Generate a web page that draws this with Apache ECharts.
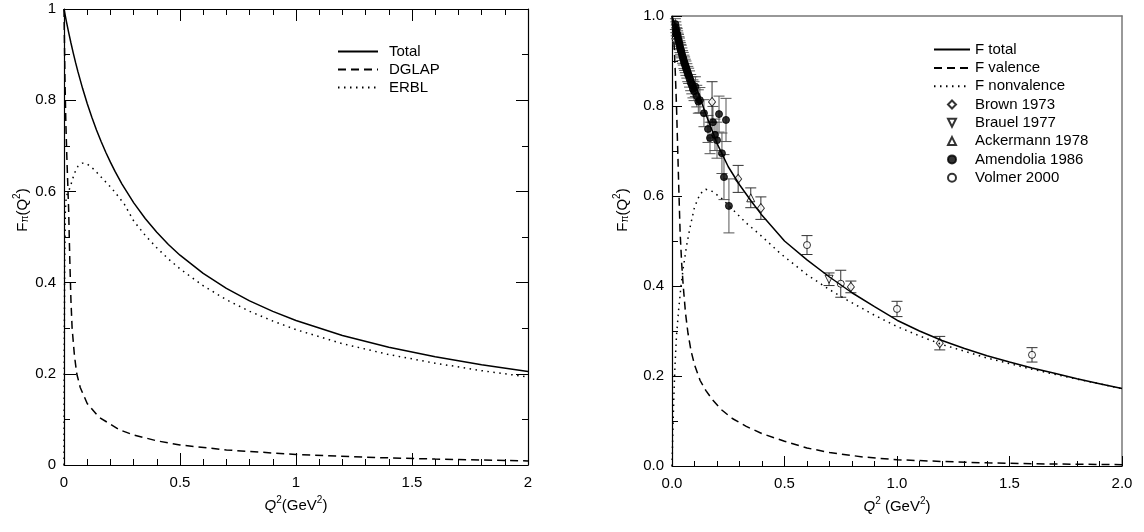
<!DOCTYPE html>
<html>
<head>
<meta charset="utf-8">
<script src="https://cdn.jsdelivr.net/npm/echarts@6/dist/echarts.min.js"></script>
<style>html,body{margin:0;padding:0;background:#fff}#c{width:1144px;height:532px}</style>
</head>
<body>
<div id="c"></div>
<script>
// ---------- Left panel curves ----------
const leftTotalQ2 = [0, 0.01, 0.02, 0.03, 0.04, 0.05, 0.06, 0.08, 0.1, 0.12, 0.14, 0.16, 0.18, 0.2, 0.22, 0.25, 0.3, 0.35, 0.4, 0.45, 0.5, 0.6, 0.7, 0.8, 0.9, 1.0, 1.2, 1.4, 1.6, 1.8, 2.0];
const leftTotalF  = [1.0, 0.9736, 0.9488, 0.9254, 0.9033, 0.8824, 0.8626, 0.826, 0.7927, 0.7625, 0.7348, 0.7093, 0.6858, 0.6641, 0.6439, 0.6161, 0.5755, 0.5406, 0.5103, 0.4837, 0.4601, 0.4201, 0.3874, 0.36, 0.3368, 0.3168, 0.284, 0.2582, 0.2373, 0.2199, 0.2052];
const leftDglapQ2 = [0, 0.004, 0.008, 0.012, 0.016, 0.02, 0.025, 0.03, 0.035, 0.045, 0.055, 0.07, 0.1, 0.15, 0.24, 0.3, 0.4, 0.5, 0.7, 1.0, 1.3, 1.6, 2.0];
const leftDglapF  = [1.0, 0.85, 0.75, 0.68, 0.62, 0.56, 0.45, 0.36, 0.3, 0.24, 0.2, 0.17, 0.135, 0.105, 0.077, 0.066, 0.053, 0.044, 0.033, 0.023, 0.017, 0.013, 0.009];
const leftErblQ2  = [0, 0.001, 0.003, 0.006, 0.01, 0.02, 0.03, 0.045, 0.06, 0.08, 0.1, 0.13, 0.17, 0.2, 0.22, 0.26, 0.3, 0.35, 0.4, 0.45, 0.5, 0.6, 0.7, 0.8, 0.9, 1.0, 1.2, 1.4, 1.6, 1.8, 2.0];
const leftErblF   = [0.0, 0.25, 0.45, 0.56, 0.59, 0.6, 0.615, 0.64, 0.655, 0.662, 0.66, 0.648, 0.626, 0.61, 0.598, 0.572, 0.5355, 0.5036, 0.4763, 0.4517, 0.4301, 0.3931, 0.3624, 0.337, 0.3158, 0.2968, 0.266, 0.2422, 0.2233, 0.2069, 0.1932];

// ---------- Right panel curves ----------
const rightTotalQ2 = [0, 0.02, 0.05, 0.1, 0.15, 0.2, 0.25, 0.3, 0.35, 0.4, 0.5, 0.6, 0.7, 0.8, 0.9, 1.0, 1.1, 1.2, 1.3, 1.4, 1.5, 1.6, 1.7, 1.8, 1.9, 2.0];
const rightTotalF  = [1.0, 0.97, 0.925, 0.852, 0.782, 0.717, 0.665, 0.625, 0.59, 0.557, 0.5, 0.458, 0.42, 0.385, 0.354, 0.324, 0.3, 0.279, 0.261, 0.245, 0.231, 0.218, 0.206, 0.194, 0.183, 0.172];
const rightValQ2 = [0, 0.005, 0.01, 0.015, 0.02, 0.025, 0.03, 0.036, 0.043, 0.05, 0.06, 0.071, 0.085, 0.1, 0.125, 0.15, 0.18, 0.22, 0.27, 0.33, 0.4, 0.5, 0.6, 0.7, 0.85, 1.0, 1.2, 1.4, 1.6, 1.8, 2.0];
const rightValF  = [1.0, 0.97, 0.93, 0.87, 0.8, 0.71, 0.62, 0.52, 0.45, 0.4, 0.34, 0.295, 0.255, 0.225, 0.19, 0.168, 0.147, 0.125, 0.105, 0.088, 0.072, 0.055, 0.04, 0.03, 0.02, 0.014, 0.01, 0.007, 0.005, 0.004, 0.003];
const rightNonvalQ2 = [0, 0.004, 0.008, 0.013, 0.02, 0.03, 0.04, 0.05, 0.065, 0.08, 0.1, 0.125, 0.15, 0.18, 0.22, 0.27, 0.33, 0.4, 0.48, 0.6, 0.7, 0.777, 0.9, 1.0, 1.1, 1.2, 1.4, 1.6, 1.8, 2.0];
const rightNonvalF  = [0.0, 0.08, 0.15, 0.22, 0.29, 0.35, 0.4, 0.44, 0.49, 0.53, 0.575, 0.605, 0.615, 0.61, 0.595, 0.57, 0.54, 0.51, 0.473, 0.425, 0.392, 0.369, 0.335, 0.31, 0.289, 0.27, 0.24, 0.215, 0.193, 0.172];

// ---------- Data points ----------
const brownQ2  = [0.178, 0.294, 0.395, 0.795, 1.19];
const brownF   = [0.809, 0.638, 0.573, 0.398, 0.273];
const brownErr = [0.045, 0.03, 0.025, 0.013, 0.015];
const brauelQ2  = [0.698];
const brauelF   = [0.415];
const brauelErr = [0.014];
const ackermannQ2  = [0.35];
const ackermannF   = [0.596];
const ackermannErr = [0.022];
const amendoliaQ2  = [0.015, 0.017, 0.019, 0.021, 0.023, 0.025, 0.027, 0.029, 0.031, 0.033, 0.035, 0.037, 0.039, 0.041, 0.044, 0.047, 0.050, 0.053, 0.056, 0.059, 0.062, 0.066, 0.070, 0.074, 0.078, 0.083, 0.088, 0.093, 0.098, 0.104, 0.110, 0.117, 0.124, 0.142, 0.160, 0.169, 0.182, 0.191, 0.200, 0.209, 0.222, 0.231, 0.240, 0.253];
const amendoliaF   = [0.982, 0.975, 0.968, 0.962, 0.960, 0.955, 0.950, 0.946, 0.941, 0.938, 0.932, 0.928, 0.924, 0.921, 0.915, 0.909, 0.905, 0.898, 0.894, 0.889, 0.884, 0.878, 0.871, 0.867, 0.860, 0.852, 0.846, 0.838, 0.833, 0.843, 0.822, 0.810, 0.813, 0.784, 0.749, 0.729, 0.764, 0.736, 0.724, 0.782, 0.695, 0.642, 0.769, 0.578];
const amendoliaErr = [0.012, 0.012, 0.012, 0.012, 0.012, 0.012, 0.012, 0.013, 0.013, 0.013, 0.013, 0.013, 0.013, 0.014, 0.014, 0.014, 0.014, 0.015, 0.015, 0.015, 0.016, 0.016, 0.017, 0.017, 0.018, 0.018, 0.019, 0.020, 0.021, 0.022, 0.024, 0.026, 0.028, 0.030, 0.030, 0.035, 0.035, 0.035, 0.040, 0.040, 0.045, 0.050, 0.048, 0.060];
const volmerQ2  = [0.6, 0.75, 1.0, 1.6];
const volmerF   = [0.491, 0.405, 0.349, 0.247];
const volmerErr = [0.021, 0.03, 0.017, 0.016];

// ---------- Tick labels ----------
const leftXTicks = [0, 0.5, 1, 1.5, 2];
const leftYTicks = [0, 0.2, 0.4, 0.6, 0.8, 1];

const pairs = (xs, ys) => xs.map((x, i) => [x, ys[i]]);
const errs = (xs, ys, es) => xs.map((x, i) => [x, ys[i] - es[i], ys[i] + es[i]]);

const FONT = 'Liberation Sans, Arial, sans-serif';
const BLACK = '#000';

function errorSeries(data, xi, yi, color) {
  return {
    type: 'custom', xAxisIndex: xi, yAxisIndex: yi, z: 2, silent: true,
    encode: { x: 0, y: [1, 2] },
    data: data,
    renderItem: function (params, api) {
      const x = api.value(0), lo = api.value(1), hi = api.value(2);
      const p1 = api.coord([x, lo]), p2 = api.coord([x, hi]);
      const hw = 5.5;
      const st = { stroke: color, lineWidth: 1 };
      return { type: 'group', children: [
        { type: 'line', shape: { x1: p1[0], y1: p1[1], x2: p2[0], y2: p2[1] }, style: st },
        { type: 'line', shape: { x1: p1[0] - hw, y1: p1[1], x2: p1[0] + hw, y2: p1[1] }, style: st },
        { type: 'line', shape: { x1: p2[0] - hw, y1: p2[1], x2: p2[0] + hw, y2: p2[1] }, style: st }
      ]};
    }
  };
}

function lineSeries(name, data, xi, yi, type) {
  return {
    name: name, type: 'line', xAxisIndex: xi, yAxisIndex: yi, data: data,
    symbol: 'none', showSymbol: false, smooth: false, z: 4,
    lineStyle: { color: BLACK, width: 1.5, type: type },
    itemStyle: { color: BLACK }
  };
}

function scatterSeries(name, data, symbol, size, filled, rotate) {
  return {
    name: name, type: 'scatter', xAxisIndex: 2, yAxisIndex: 2, data: data,
    symbol: symbol, symbolSize: size, symbolRotate: rotate || 0, z: 3,
    itemStyle: { color: filled ? BLACK : '#fff', borderColor: BLACK, borderWidth: 1 }
  };
}

const supRich = {
  b: { fontSize: 15, fontFamily: FONT, color: BLACK, lineHeight: 18, verticalAlign: 'bottom' },
  bi: { fontSize: 15, fontFamily: FONT, fontStyle: 'italic', color: BLACK, lineHeight: 18, verticalAlign: 'bottom' },
  sup: { fontSize: 10, fontFamily: FONT, color: BLACK, lineHeight: 10, verticalAlign: 'top' },
  sub: { fontSize: 10, fontFamily: FONT, color: BLACK, lineHeight: 10, verticalAlign: 'bottom' }
};

const TICK = { color: BLACK, width: 1 };

function xAxisCfg(grid, pos, opts) {
  return Object.assign({
    gridIndex: grid, type: 'value', position: pos, min: 0, max: 2, interval: 0.5,
    axisLine: { show: true, onZero: false, lineStyle: { color: BLACK, width: 1.2 } },
    axisTick: { show: true, inside: true, length: 12, lineStyle: TICK },
    minorTick: { show: true, splitNumber: 5, length: 6, lineStyle: TICK },
    splitLine: { show: false }, minorSplitLine: { show: false },
    axisLabel: { show: false }
  }, opts || {});
}
function yAxisCfg(grid, pos, opts) {
  return Object.assign({
    gridIndex: grid, type: 'value', position: pos, min: 0, max: 1, interval: 0.2,
    axisLine: { show: true, onZero: false, lineStyle: { color: BLACK, width: 1.2 } },
    axisTick: { show: true, inside: true, length: 12, lineStyle: TICK },
    minorTick: { show: true, splitNumber: 2, length: 6, lineStyle: TICK },
    splitLine: { show: false }, minorSplitLine: { show: false },
    axisLabel: { show: false }
  }, opts || {});
}

const xName = '{bi|Q}{sup|2}{b|(GeV}{sup|2}{b|)}';
const xName2 = '{bi|Q}{sup|2}{b| (GeV}{sup|2}{b|)}';
const yName = '{b|F}{sub|π}{b|(Q}{sup|2}{b|)}';

const legendText = (pad) => ({ fontSize: 15, fontFamily: FONT, color: BLACK, lineHeight: 14, padding: [0, 0, 0, pad] });
const hideSym = (name) => ({ name: name, itemStyle: { opacity: 0 } });

const option = {
  animation: false,
  backgroundColor: '#fff',
  textStyle: { fontFamily: FONT },
  grid: [
    { left: 64, top: 9, width: 464, height: 456 },
    { left: 672, top: 16, width: 450, height: 450 }
  ],
  xAxis: [
    xAxisCfg(0, 'bottom', { name: xName, nameLocation: 'middle', nameGap: 26, nameTextStyle: { rich: supRich },
      axisLabel: { show: true, fontSize: 15, fontFamily: FONT, color: BLACK, margin: 10,
        formatter: v => (leftXTicks.indexOf(v) >= 0 ? String(v) : '') } }),
    xAxisCfg(0, 'top'),
    xAxisCfg(1, 'bottom', { name: xName2, nameLocation: 'middle', nameGap: 26, nameTextStyle: { rich: supRich },
      axisTick: { show: true, inside: true, length: 10, lineStyle: TICK },
      minorTick: { show: true, splitNumber: 5, length: 5, lineStyle: TICK },
      axisLabel: { show: true, fontSize: 15, fontFamily: FONT, color: BLACK, margin: 10, formatter: v => v.toFixed(1) } }),
    xAxisCfg(1, 'top', { axisLine: { show: true, onZero: false, lineStyle: { color: '#777', width: 1.5 } },
      axisTick: { show: false }, minorTick: { show: false } })
  ],
  yAxis: [
    yAxisCfg(0, 'left', { name: yName, nameLocation: 'middle', nameGap: 34, nameRotate: 90,
      nameTextStyle: { rich: supRich, padding: [0, 0, 0, 54] },
      axisLabel: { show: true, fontSize: 15, fontFamily: FONT, color: BLACK, margin: 8,
        formatter: v => (leftYTicks.indexOf(v) >= 0 ? String(v) : '') } }),
    yAxisCfg(0, 'right'),
    yAxisCfg(1, 'left', { name: yName, nameLocation: 'middle', nameGap: 42, nameRotate: 90,
      nameTextStyle: { rich: supRich, padding: [0, 0, 0, 62] },
      axisTick: { show: true, inside: true, length: 10, lineStyle: TICK },
      minorTick: { show: true, splitNumber: 2, length: 6, lineStyle: TICK },
      axisLabel: { show: true, fontSize: 15, fontFamily: FONT, color: BLACK, margin: 8, formatter: v => v.toFixed(1) } }),
    yAxisCfg(1, 'right', { axisLine: { show: true, onZero: false, lineStyle: { color: '#777', width: 1.5 } },
      axisTick: { show: false }, minorTick: { show: false } })
  ],
  legend: [
    { left: 332, top: 39, orient: 'vertical', itemWidth: 40, itemHeight: 14, itemGap: 3,
      data: [hideSym('Total'), hideSym('DGLAP'), hideSym('ERBL')], selectedMode: false,
      textStyle: legendText(6) },
    { left: 928, top: 37, orient: 'vertical', itemWidth: 36, itemHeight: 14, itemGap: 3.4,
      data: [hideSym('F total'), hideSym('F valence'), hideSym('F nonvalence')], selectedMode: false,
      textStyle: legendText(0) },
    { left: 942, top: 92, orient: 'vertical', itemWidth: 8, itemHeight: 8, itemGap: 3.3,
      data: [
        { name: 'Brown 1973', icon: 'diamond' },
        { name: 'Brauel 1977', icon: 'path://M0,0L10,0L5,10Z' },
        { name: 'Ackermann 1978', icon: 'triangle' },
        { name: 'Amendolia 1986', icon: 'circle' },
        { name: 'Volmer 2000', icon: 'circle' }
      ], selectedMode: false,
      textStyle: legendText(14) }
  ],
  series: [
    lineSeries('Total', pairs(leftTotalQ2, leftTotalF), 0, 0, 'solid'),
    lineSeries('DGLAP', pairs(leftDglapQ2, leftDglapF), 0, 0, [8, 5]),
    lineSeries('ERBL', pairs(leftErblQ2, leftErblF), 0, 0, [1.5, 4.5]),
    lineSeries('F total', pairs(rightTotalQ2, rightTotalF), 2, 2, 'solid'),
    lineSeries('F valence', pairs(rightValQ2, rightValF), 2, 2, [8, 5]),
    lineSeries('F nonvalence', pairs(rightNonvalQ2, rightNonvalF), 2, 2, [1.5, 4.5]),
    errorSeries(errs(amendoliaQ2, amendoliaF, amendoliaErr), 2, 2, '#555'),
    errorSeries(errs(brownQ2, brownF, brownErr), 2, 2, '#333'),
    errorSeries(errs(brauelQ2, brauelF, brauelErr), 2, 2, '#333'),
    errorSeries(errs(ackermannQ2, ackermannF, ackermannErr), 2, 2, '#333'),
    errorSeries(errs(volmerQ2, volmerF, volmerErr), 2, 2, '#333'),
    scatterSeries('Brown 1973', pairs(brownQ2, brownF), 'diamond', [7, 9], false),
    scatterSeries('Brauel 1977', pairs(brauelQ2, brauelF), 'triangle', 8, false, 180),
    scatterSeries('Ackermann 1978', pairs(ackermannQ2, ackermannF), 'triangle', 8, false),
    scatterSeries('Amendolia 1986', pairs(amendoliaQ2, amendoliaF), 'circle', 7, true),
    scatterSeries('Volmer 2000', pairs(volmerQ2, volmerF), 'circle', 7, false)
  ]
};

const chart = echarts.init(document.getElementById('c'), null, { renderer: 'canvas' });
chart.setOption(option);
</script>
</body>
</html>
